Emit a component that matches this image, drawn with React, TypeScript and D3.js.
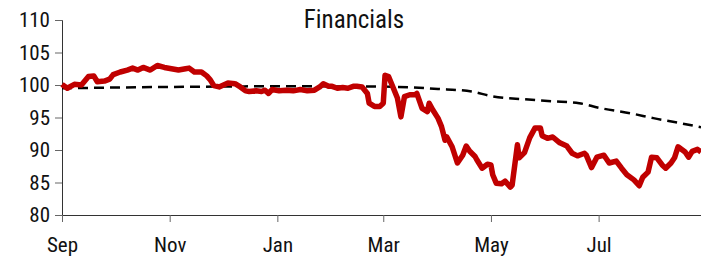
import React, { useEffect, useRef } from "react";
import * as d3 from "d3";

const width = 701;
const height = 261;
const margin = { top: 20, right: 0, bottom: 46, left: 62 };

const title = "Financials";
const yTicks = [80, 85, 90, 95, 100, 105, 110];
const xTickDates = ["2019-09-01", "2019-11-01", "2020-01-01", "2020-03-01", "2020-05-01", "2020-07-01"];
const xTickLabels = ["Sep", "Nov", "Jan", "Mar", "May", "Jul"];

// red series: financials index
const finDates = [
  "2019-09-01", "2019-09-04", "2019-09-08", "2019-09-12", "2019-09-16", "2019-09-19", "2019-09-21", "2019-09-25",
  "2019-09-28", "2019-09-30", "2019-10-04", "2019-10-08", "2019-10-11", "2019-10-14", "2019-10-17", "2019-10-21",
  "2019-10-25", "2019-10-29", "2019-11-02", "2019-11-06", "2019-11-10", "2019-11-12", "2019-11-15", "2019-11-19",
  "2019-11-22", "2019-11-24", "2019-11-26", "2019-11-29", "2019-12-04", "2019-12-08", "2019-12-11", "2019-12-14",
  "2019-12-16", "2019-12-20", "2019-12-23", "2019-12-25", "2019-12-27", "2019-12-29", "2020-01-02", "2020-01-06",
  "2020-01-10", "2020-01-14", "2020-01-18", "2020-01-22", "2020-01-25", "2020-01-27", "2020-01-30", "2020-02-01",
  "2020-02-04", "2020-02-07", "2020-02-10", "2020-02-13", "2020-02-15", "2020-02-18", "2020-02-21", "2020-02-22",
  "2020-02-25", "2020-02-28", "2020-03-01", "2020-03-02", "2020-03-04", "2020-03-06", "2020-03-09", "2020-03-11",
  "2020-03-13", "2020-03-16", "2020-03-19", "2020-03-20", "2020-03-23", "2020-03-26", "2020-03-27", "2020-03-29",
  "2020-04-01", "2020-04-03", "2020-04-05", "2020-04-06", "2020-04-09", "2020-04-12", "2020-04-15", "2020-04-17",
  "2020-04-19", "2020-04-22", "2020-04-23", "2020-04-26", "2020-04-29", "2020-05-01", "2020-05-02", "2020-05-04",
  "2020-05-07", "2020-05-09", "2020-05-12", "2020-05-13", "2020-05-16", "2020-05-17", "2020-05-20", "2020-05-23",
  "2020-05-26", "2020-05-29", "2020-05-30", "2020-06-02", "2020-06-05", "2020-06-09", "2020-06-13", "2020-06-16",
  "2020-06-19", "2020-06-23", "2020-06-24", "2020-06-27", "2020-06-30", "2020-07-04", "2020-07-07", "2020-07-11",
  "2020-07-14", "2020-07-17", "2020-07-21", "2020-07-24", "2020-07-26", "2020-07-29", "2020-07-31", "2020-08-03",
  "2020-08-06", "2020-08-08", "2020-08-11", "2020-08-13", "2020-08-15", "2020-08-19", "2020-08-21", "2020-08-23",
  "2020-08-26", "2020-08-28",
];
const finValues = [
  100.1, 99.5, 100.1, 100.0, 101.3, 101.4, 100.5, 100.6,
  100.9, 101.6, 102.0, 102.3, 102.6, 102.3, 102.7, 102.3,
  103.0, 102.7, 102.5, 102.3, 102.5, 102.6, 102.0, 102.0,
  101.4, 100.8, 99.9, 99.7, 100.3, 100.2, 99.7, 99.1,
  99.0, 99.1, 99.0, 99.2, 98.7, 99.3, 99.1, 99.2,
  99.1, 99.3, 99.1, 99.2, 99.7, 100.2, 99.8, 99.8,
  99.5, 99.6, 99.5, 99.8, 99.8, 99.7, 98.7, 97.2,
  96.7, 96.7, 97.2, 101.5, 101.3, 100.0, 98.0, 95.1,
  98.2, 98.5, 98.5, 98.7, 96.4, 95.9, 97.2, 96.2,
  94.9, 93.6, 91.5, 92.0, 90.5, 88.0, 89.2, 90.6,
  89.8, 89.0, 88.5, 87.2, 87.8, 87.7, 86.2, 84.9,
  84.8, 85.2, 84.3, 84.6, 90.8, 88.8, 89.6, 91.9,
  93.4, 93.4, 92.2, 91.8, 92.0, 91.1, 90.6, 89.5,
  89.1, 89.5, 89.2, 87.3, 88.9, 89.2, 88.0, 88.3,
  87.2, 86.2, 85.4, 84.5, 85.8, 86.6, 88.9, 88.8,
  87.7, 87.2, 88.0, 88.8, 90.5, 89.7, 88.9, 89.8,
  90.1, 89.7,
];

// dashed series: reference path
const refDates = [
  "2019-09-01", "2019-11-01", "2020-01-01", "2020-03-01", "2020-04-01", "2020-04-20", "2020-05-01",
  "2020-05-20", "2020-06-05", "2020-06-20", "2020-07-01", "2020-07-20", "2020-08-01", "2020-08-15", "2020-08-28",
];
const refValues = [99.5, 99.7, 99.8, 99.75, 99.4, 99.0, 98.3, 97.8, 97.5, 97.2, 96.5, 95.6, 94.9, 94.2, 93.5];

const font = "'Liberation Sans Narrow', 'Roboto Condensed', 'DejaVu Sans Condensed', sans-serif";

export default function App() {
  const ref = useRef<SVGSVGElement>(null);

  useEffect(() => {
    const parse = d3.timeParse("%Y-%m-%d");
    const fin = finDates.map((d, i) => ({ date: parse(d)!, value: finValues[i] }));
    const refLine = refDates.map((d, i) => ({ date: parse(d)!, value: refValues[i] }));

    const svg = d3.select(ref.current);
    svg.selectAll("*").remove();

    const x = d3
      .scaleTime()
      .domain([parse("2019-09-01")!, parse("2020-08-28")!])
      .range([margin.left, width - margin.right]);

    const y = d3
      .scaleLinear()
      .domain([80, 110])
      .range([height - margin.bottom, margin.top]);

    const line = d3
      .line<{ date: Date; value: number }>()
      .x(d => x(d.date))
      .y(d => y(d.value));

    // axes
    svg
      .append("g")
      .attr("transform", `translate(${margin.left},0)`)
      .call(d3.axisLeft(y).tickValues(yTicks).tickSize(7).tickPadding(5))
      .call(g => g.select(".domain").attr("stroke", "#333"))
      .call(g => g.selectAll(".tick line").attr("stroke", "#666"))
      .call(g =>
        g
          .selectAll(".tick text")
          .attr("fill", "#111")
          .attr("font-family", font)
          .attr("font-size", 21)
      );

    svg
      .append("g")
      .attr("transform", `translate(0,${height - margin.bottom})`)
      .call(
        d3
          .axisBottom(x)
          .tickValues(xTickDates.map(d => parse(d)!))
          .tickFormat((_, i) => xTickLabels[i])
          .tickSize(7)
          .tickSizeOuter(0)
          .tickPadding(15)
      )
      .call(g => g.select(".domain").attr("stroke", "#333"))
      .call(g => g.selectAll(".tick line").attr("stroke", "#666"))
      .call(g =>
        g
          .selectAll(".tick text")
          .attr("fill", "#111")
          .attr("font-family", font)
          .attr("font-size", 21)
      );

    svg
      .append("path")
      .datum(refLine)
      .attr("fill", "none")
      .attr("stroke", "#000")
      .attr("stroke-width", 2.5)
      .attr("stroke-dasharray", "10,6")
      .attr("d", line.curve(d3.curveMonotoneX));

    svg
      .append("path")
      .datum(fin)
      .attr("fill", "none")
      .attr("stroke", "#c00000")
      .attr("stroke-width", 5.5)
      .attr("stroke-linejoin", "round")
      .attr("d", line.curve(d3.curveLinear));

    svg
      .append("text")
      .attr("x", 354)
      .attr("y", 28)
      .attr("text-anchor", "middle")
      .attr("font-family", font)
      .attr("font-size", 25)
      .attr("fill", "#111")
      .text(title);
  }, []);

  return (
    <svg
      ref={ref}
      width={width}
      height={height}
      style={{ position: "absolute", left: 0, top: 0, background: "#fff" }}
    />
  );
}
